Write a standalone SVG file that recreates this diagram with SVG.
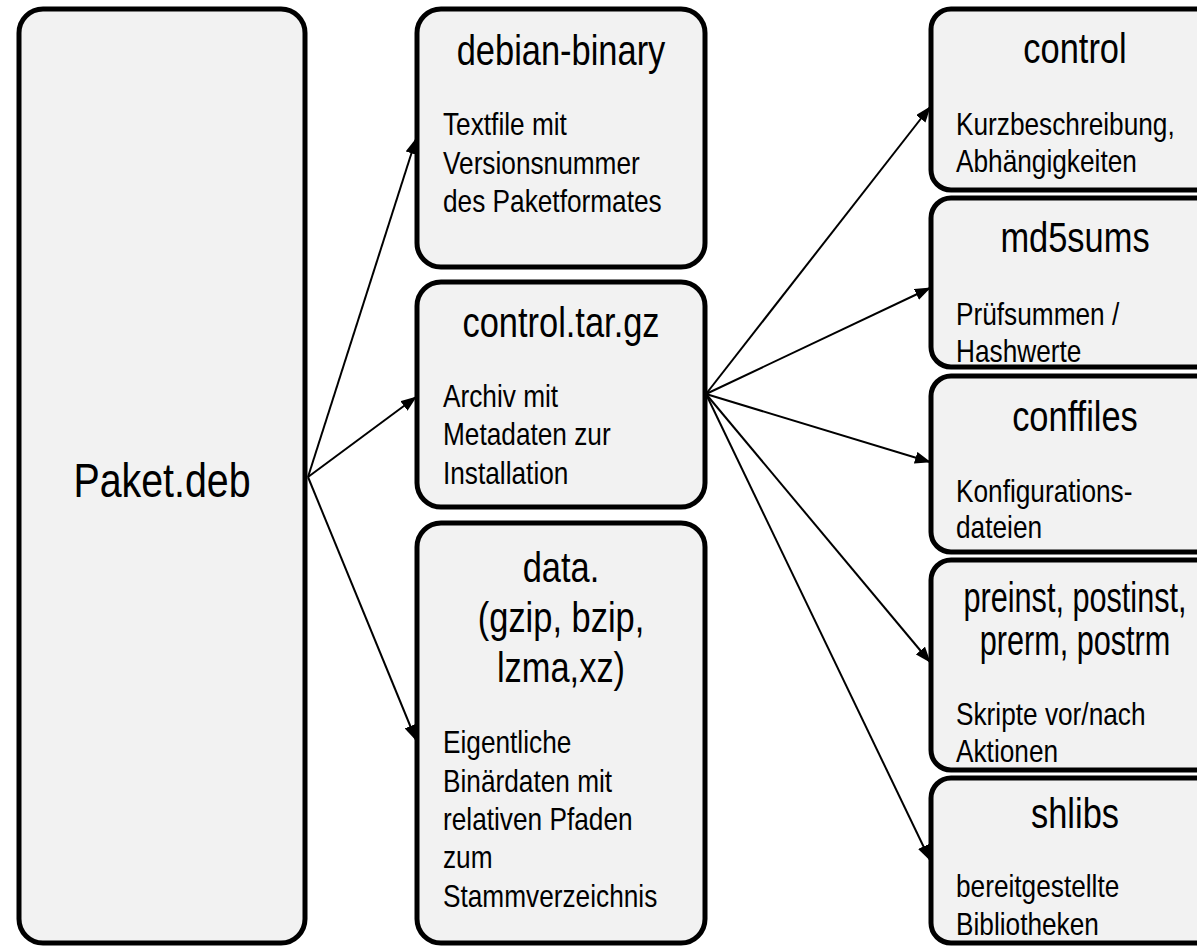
<svg xmlns="http://www.w3.org/2000/svg" width="1197" height="947" viewBox="0 0 1197 947">
<style>
.box{fill:#f2f2f2;stroke:#000;stroke-width:5}
text{font-family:"Liberation Sans Narrow","Arial Narrow","Liberation Sans",Arial,sans-serif;fill:#000}
.big{font-size:48px;text-anchor:middle}
.title{font-size:42px;text-anchor:middle}
.body{font-size:32px}
.edge{stroke:#000;stroke-width:2;fill:none;marker-end:url(#arrow)}
</style>
<defs>
<marker id="arrow" viewBox="0 0 16 12" refX="15" refY="6" markerWidth="8" markerHeight="6" markerUnits="strokeWidth" orient="auto">
<path d="M0,0 L16,6 L0,12 z" fill="#000"/>
</marker>
</defs>
<rect width="1197" height="947" fill="#fff"/>
<g id="connectors">
<line class="edge" x1="308" y1="477" x2="416" y2="139"/>
<line class="edge" x1="308" y1="477" x2="416" y2="397"/>
<line class="edge" x1="308" y1="477" x2="416" y2="740"/>
<line class="edge" x1="706" y1="394" x2="930" y2="107"/>
<line class="edge" x1="706" y1="394" x2="930" y2="288"/>
<line class="edge" x1="706" y1="394" x2="930" y2="462"/>
<line class="edge" x1="706" y1="394" x2="930" y2="662"/>
<line class="edge" x1="706" y1="394" x2="930" y2="860"/>
</g>
<g id="paket">
<rect class="box" x="19" y="9" width="286" height="934" rx="24"/>
<text class="big" transform="matrix(0.82 0 0 1 162 497)">Paket.deb</text>
</g>
<g id="debian-binary">
<rect class="box" x="417" y="9" width="288" height="258" rx="24"/>
<text class="title" transform="matrix(0.82 0 0 1 561 65)">debian-binary</text>
<text class="body" transform="matrix(0.82 0 0 1 443 135)">Textfile mit</text>
<text class="body" transform="matrix(0.82 0 0 1 443 173.5)">Versionsnummer</text>
<text class="body" transform="matrix(0.82 0 0 1 443 212)">des Paketformates</text>
</g>
<g id="control-tar-gz">
<rect class="box" x="417" y="282" width="288" height="225" rx="24"/>
<text class="title" transform="matrix(0.82 0 0 1 561 337)">control.tar.gz</text>
<text class="body" transform="matrix(0.82 0 0 1 443 407)">Archiv mit</text>
<text class="body" transform="matrix(0.82 0 0 1 443 445)">Metadaten zur</text>
<text class="body" transform="matrix(0.82 0 0 1 443 484)">Installation</text>
</g>
<g id="data">
<rect class="box" x="417" y="523" width="288" height="420" rx="24"/>
<text class="title" transform="matrix(0.82 0 0 1 561 582)">data.</text>
<text class="title" transform="matrix(0.82 0 0 1 561 632)">(gzip, bzip,</text>
<text class="title" transform="matrix(0.82 0 0 1 561 682)">lzma,xz)</text>
<text class="body" transform="matrix(0.82 0 0 1 443 753)">Eigentliche</text>
<text class="body" transform="matrix(0.82 0 0 1 443 792)">Binärdaten mit</text>
<text class="body" transform="matrix(0.82 0 0 1 443 830)">relativen Pfaden</text>
<text class="body" transform="matrix(0.82 0 0 1 443 868)">zum</text>
<text class="body" transform="matrix(0.82 0 0 1 443 907)">Stammverzeichnis</text>
</g>
<g id="control">
<rect class="box" x="931" y="9" width="288" height="181" rx="20"/>
<text class="title" transform="matrix(0.82 0 0 1 1075 63)">control</text>
<text class="body" transform="matrix(0.82 0 0 1 956 135)">Kurzbeschreibung,</text>
<text class="body" transform="matrix(0.82 0 0 1 956 172)">Abhängigkeiten</text>
</g>
<g id="md5sums">
<rect class="box" x="931" y="198" width="288" height="169" rx="20"/>
<text class="title" transform="matrix(0.82 0 0 1 1075 252)">md5sums</text>
<text class="body" transform="matrix(0.82 0 0 1 956 325)">Prüfsummen /</text>
<text class="body" transform="matrix(0.82 0 0 1 956 362)">Hashwerte</text>
</g>
<g id="conffiles">
<rect class="box" x="931" y="376" width="288" height="176" rx="20"/>
<text class="title" transform="matrix(0.82 0 0 1 1075 431)">conffiles</text>
<text class="body" transform="matrix(0.82 0 0 1 956 502)">Konfigurations-</text>
<text class="body" transform="matrix(0.82 0 0 1 956 538)">dateien</text>
</g>
<g id="scripts">
<rect class="box" x="931" y="560" width="288" height="210" rx="20"/>
<text class="title" transform="matrix(0.73 0 0 1 1075 612)">preinst, postinst,</text>
<text class="title" transform="matrix(0.73 0 0 1 1075 655)">prerm, postrm</text>
<text class="body" transform="matrix(0.82 0 0 1 956 725)">Skripte vor/nach</text>
<text class="body" transform="matrix(0.82 0 0 1 956 762)">Aktionen</text>
</g>
<g id="shlibs">
<rect class="box" x="931" y="778" width="288" height="165" rx="20"/>
<text class="title" transform="matrix(0.82 0 0 1 1075 828)">shlibs</text>
<text class="body" transform="matrix(0.82 0 0 1 956 897)">bereitgestellte</text>
<text class="body" transform="matrix(0.82 0 0 1 956 935)">Bibliotheken</text>
</g>
</svg>
